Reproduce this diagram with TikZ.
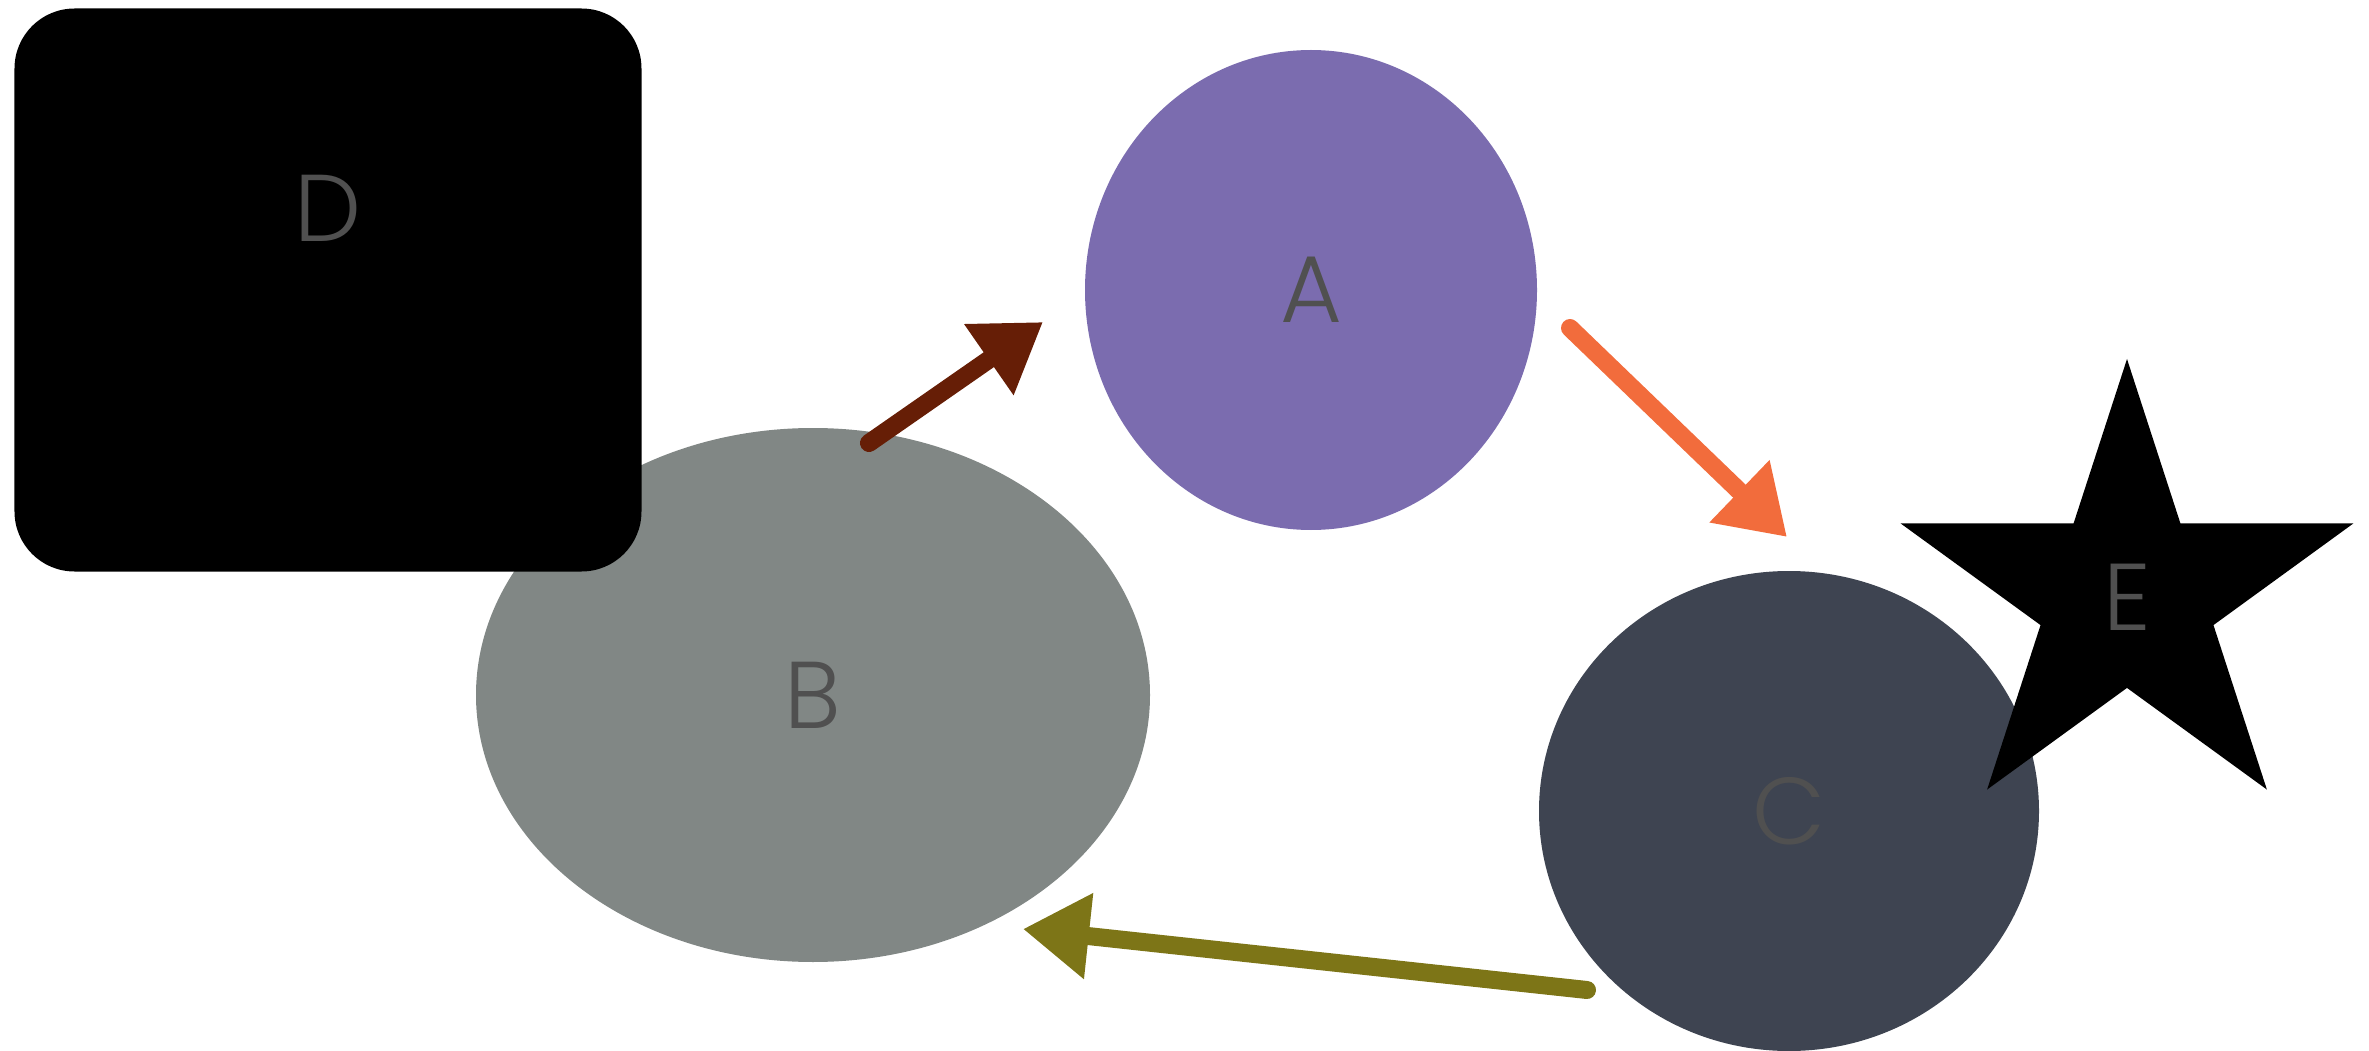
\documentclass[tikz,border=0pt]{standalone}
\usepackage{fontspec}
\setmainfont{Poppins}[UprightFont=* Light]
\usetikzlibrary{arrows.meta,shapes.geometric}

\definecolor{shapeA}{HTML}{7B6CAF}
\definecolor{shapeB}{HTML}{818785}
\definecolor{shapeC}{HTML}{3E4451}
\definecolor{labelgray}{HTML}{505050}
\definecolor{crayonBA}{HTML}{661E06}
\definecolor{crayonAC}{HTML}{F26C3C}
\definecolor{crayonCB}{HTML}{7D7517}

\begin{document}
\begin{tikzpicture}[
	lbl/.style={text=labelgray, font=\fontsize{27}{30}\selectfont},
	blob/.style={ellipse, inner sep=0pt, lbl},
	crayon/.style={line width=0.18cm, line cap=round, -{Triangle[length=0.66cm,width=0.82cm]}}
]
	\useasboundingbox (0,0) rectangle (23.69,-10.51);
	% Shapes
	\node[blob, fill=shapeB, minimum width=6.74cm, minimum height=5.34cm] (B) at (8.13,-6.95) {B};
	\node[rectangle, fill=black, rounded corners=0.6cm, minimum width=6.27cm, minimum height=5.63cm,
		label={[lbl, yshift=0.82cm]center:D}] (D) at (3.28,-2.90) {};
	\node[blob, fill=shapeA, minimum width=4.52cm, minimum height=4.80cm] (A) at (13.11,-2.90) {A};
	\node[blob, fill=shapeC, minimum width=5.00cm, minimum height=4.80cm] (C) at (17.89,-8.11) {C};
	\node[star, star points=5, star point ratio=2.618, fill=black, inner sep=0pt, minimum size=4.76cm, lbl] (E) at (21.27,-5.97) {E};
	% Arrow ends
	\coordinate (BA-s) at (8.69,-4.43);
	\coordinate (BA-e) at (10.43,-3.22);
	\coordinate (AC-s) at (15.70,-3.28);
	\coordinate (AC-e) at (17.87,-5.37);
	\coordinate (CB-s) at (15.87,-9.90);
	\coordinate (CB-e) at (10.23,-9.29);
	% Arrows
	\draw[crayon, crayonBA] (BA-s) -- (BA-e);
	\draw[crayon, crayonAC] (AC-s) -- (AC-e);
	\draw[crayon, crayonCB] (CB-s) -- (CB-e);
\end{tikzpicture}
\end{document}
